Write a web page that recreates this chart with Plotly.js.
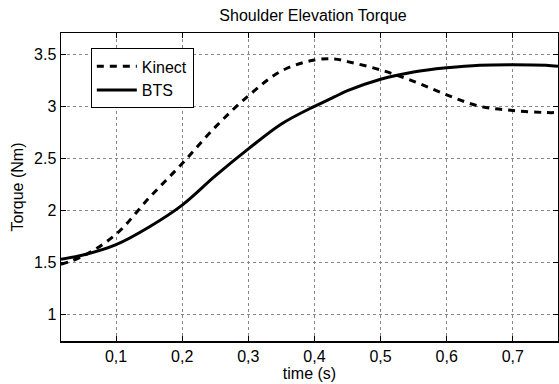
<!DOCTYPE html>
<html><head><meta charset="utf-8">
<script src="https://cdn.plot.ly/plotly-3.0.1.min.js"></script>
<style>body{margin:0;background:#fff}#c{width:559px;height:384px}</style>
</head><body><div id="c"></div>
<script>
const time = [0.0167, 0.05, 0.1, 0.15, 0.2, 0.25, 0.3, 0.35, 0.4, 0.43, 0.45, 0.5, 0.55, 0.6, 0.65, 0.7, 0.75, 0.7683];
const kinect = [1.48, 1.56, 1.77, 2.12, 2.45, 2.80, 3.10, 3.34, 3.445, 3.455, 3.43, 3.35, 3.24, 3.11, 3.00, 2.96, 2.94, 2.94];
const bts = [1.53, 1.57, 1.67, 1.84, 2.05, 2.33, 2.59, 2.83, 3.00, 3.09, 3.15, 3.26, 3.33, 3.37, 3.395, 3.40, 3.395, 3.385];
const xTickVals = [0.1, 0.2, 0.3, 0.4, 0.5, 0.6, 0.7];
const xTickText = ["0,1", "0,2", "0,3", "0,4", "0,5", "0,6", "0,7"];
const yTickVals = [1, 1.5, 2, 2.5, 3, 3.5];
const yTickText = ["1", "1.5", "2", "2.5", "3", "3.5"];

const font = {family: "Liberation Sans, Arial, sans-serif", color: "#000", size: 16};
const traces = [
  {x: time, y: kinect, name: "Kinect", mode: "lines", line: {color: "#000", width: 3, dash: "7px,6px", shape: "spline"}},
  {x: time, y: bts, name: "BTS", mode: "lines", line: {color: "#000", width: 3, shape: "spline"}}
];
const axisCommon = {
  showline: true, linecolor: "#000", linewidth: 1.5, mirror: "ticks",
  ticks: "inside", ticklen: 5, tickcolor: "#000", tickwidth: 1,
  showgrid: true, gridcolor: "#888", griddash: "dot", gridwidth: 1,
  zeroline: false, tickfont: font
};
const layout = {
  width: 559, height: 384,
  margin: {l: 61, r: 1, t: 33, b: 43},
  paper_bgcolor: "#fff", plot_bgcolor: "#fff",
  font: font,
  title: {text: "Shoulder Elevation Torque", font: {family: font.family, size: 16, color: "#000"}, x: 0.56, xanchor: "center", y: 0.96, yanchor: "middle"},
  xaxis: Object.assign({}, axisCommon, {range: [0.0167, 0.7683], tickmode: "array", tickvals: xTickVals, ticktext: xTickText, ticklabelstandoff: 0,
    title: {text: "time (s)", font: font, standoff: 0}}),
  yaxis: Object.assign({}, axisCommon, {range: [0.743, 3.705], tickmode: "array", tickvals: yTickVals, ticktext: yTickText,
    title: {text: "Torque (Nm)", font: font, standoff: 6}}),
  legend: {x: 0.06, y: 0.95, xanchor: "left", yanchor: "top", bgcolor: "#fff", bordercolor: "#000", borderwidth: 1,
    font: {family: font.family, size: 16, color: "#000"}, tracegroupgap: 0, itemwidth: 40},
  showlegend: true
};
Plotly.newPlot("c", traces, layout, {staticPlot: true, displayModeBar: false});
</script></body></html>
